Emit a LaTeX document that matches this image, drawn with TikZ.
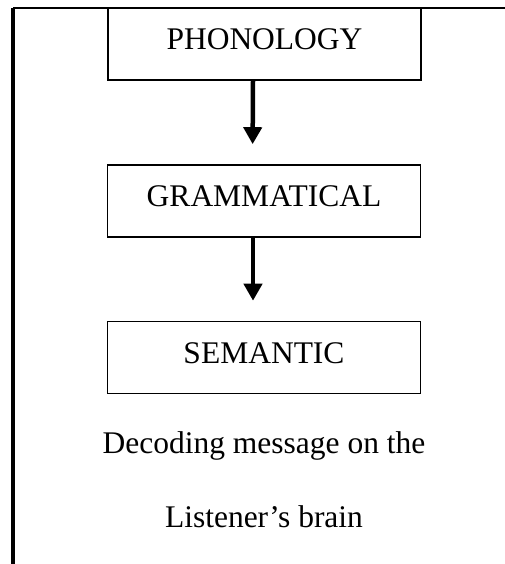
\documentclass[tikz,border=0pt]{standalone}
\usepackage{fontspec}
\setmainfont{Liberation Serif}
\usetikzlibrary{arrows.meta,calc}
\tikzset{
  levelbox/.style={draw=black, line width=1.6pt, minimum width=313pt, minimum height=72pt,
    inner sep=0pt, text height=21pt, text depth=10pt,
    font=\fontsize{31.5}{36}\selectfont},
  flowarrow/.style={line width=4.5pt, -{Triangle[width=18pt,length=17pt]}, shorten >=20pt},
  plaintext/.style={inner sep=0pt, anchor=base, font=\fontsize{31.5}{36}\selectfont},
}
\begin{document}
\begin{tikzpicture}[x=1pt,y=1pt]
\useasboundingbox (0,0) rectangle (504,-564);
% outer frame (top and left edges visible)
\coordinate (ftl) at (13,-8);
\coordinate (ftr) at (510,-8);
\coordinate (fbl) at (13,-570);
\draw[line width=2pt] (ftl) -- (ftr);
\draw[line width=3.2pt] (fbl) -- (ftl);
% boxes
\node[levelbox] (phon) at (264.5,-44) {PHONOLOGY};
\node[levelbox] (gram) at (264,-201) {GRAMMATICAL};
\node[levelbox] (sem)  at (264,-357.5) {SEMANTIC};
% arrows
\draw[flowarrow] ([xshift=-11.5pt]phon.south) -- ([xshift=-11.5pt]gram.north);
\draw[flowarrow] ([xshift=-11pt]gram.south) -- ([xshift=-11pt]sem.north);
% texts
\node[plaintext] (dec) at (264,-453) {Decoding message on the};
\node[plaintext] (lis) at (264,-527) {Listener’s brain};
\end{tikzpicture}
\end{document}
